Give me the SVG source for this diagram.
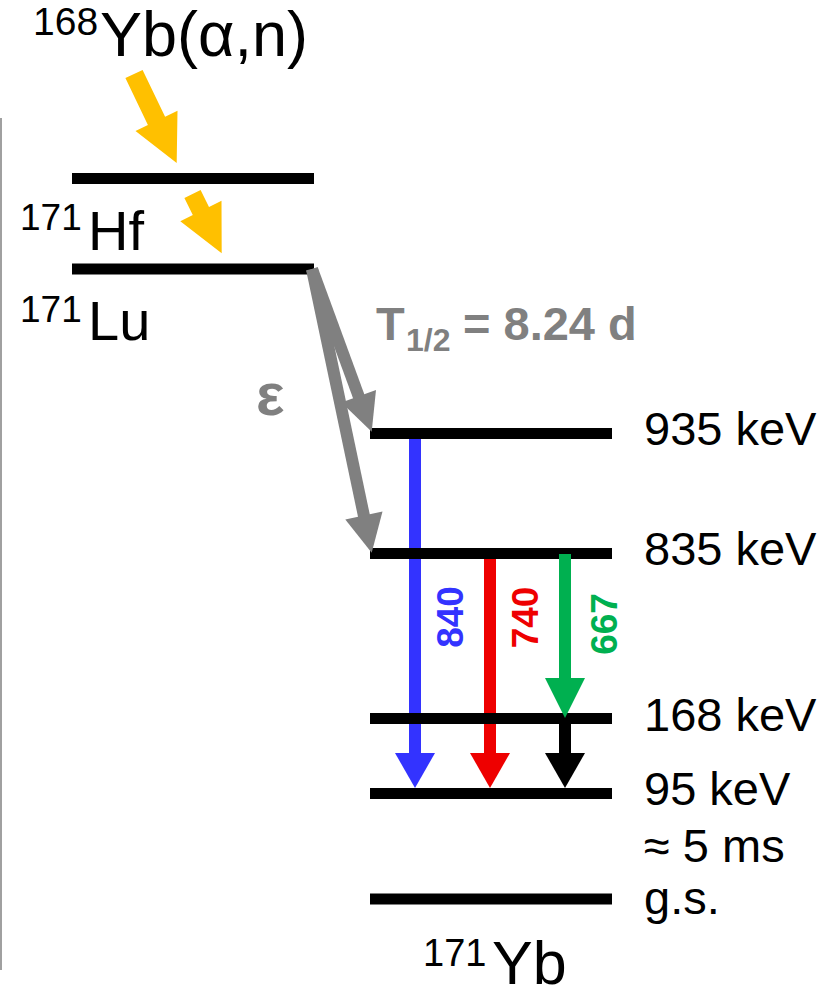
<svg xmlns="http://www.w3.org/2000/svg" width="834" height="987" viewBox="0 0 834 987">
<style>
.lvl{stroke:#000;stroke-width:11;fill:none}
.t{font-family:"Liberation Sans",Arial,sans-serif;fill:#000}
.b{font-weight:bold}
.g{fill:#808080}
.orange{fill:#FFC000}
.gray{fill:#808080}
.gs{stroke:#808080;stroke-width:12;fill:none}
.blue{fill:#3333FF}.bs{stroke:#3333FF;stroke-width:12}
.red{fill:#EE0000}.rs{stroke:#EE0000;stroke-width:12}
.green{fill:#00B050}.grs{stroke:#00B050;stroke-width:12}
.blk{fill:#000}.ks{stroke:#000;stroke-width:12}
</style>
<rect width="834" height="987" fill="#fff"/>
<line x1="1" y1="118" x2="1" y2="970" stroke="#808080" stroke-width="1.5"/>

<g id="reaction">
<text class="t"><tspan x="33" y="35" font-size="39">168</tspan><tspan x="100" y="56" font-size="63">Yb(α,n)</tspan></text>
</g>

<g id="connectors-under">
<line class="bs" x1="415" y1="439" x2="415" y2="754"/>
<polygon class="blue" points="395,753 435,753 415,788"/>
<line class="rs" x1="490" y1="559" x2="490" y2="754"/>
<polygon class="red" points="470,753 510,753 490,788"/>
</g>

<g id="hf171">
<line class="lvl" x1="72" y1="178.5" x2="314" y2="178.5"/>
<text class="t"><tspan x="20" y="230" font-size="37">171</tspan><tspan x="88" y="250" font-size="56">Hf</tspan></text>
</g>
<g id="lu171">
<line class="lvl" x1="72" y1="269" x2="314" y2="269"/>
<text class="t"><tspan x="20" y="322" font-size="37">171</tspan><tspan x="88" y="340" font-size="56">Lu</tspan></text>
</g>
<g id="lvl935">
<line class="lvl" x1="370" y1="433.5" x2="612" y2="433.5"/>
<text class="t" x="644" y="445" font-size="47">935 keV</text>
</g>
<g id="lvl835">
<line class="lvl" x1="370" y1="553.5" x2="612" y2="553.5"/>
<text class="t" x="644" y="565" font-size="47">835 keV</text>
</g>
<g id="lvl168">
<line class="lvl" x1="370" y1="718.5" x2="612" y2="718.5"/>
<text class="t" x="644" y="731" font-size="47">168 keV</text>
</g>
<g id="lvl95">
<line class="lvl" x1="370" y1="793.5" x2="612" y2="793.5"/>
<text class="t" x="644" y="805" font-size="47">95 keV</text>
<text class="t" x="644" y="862" font-size="47">≈ 5 ms</text>
</g>
<g id="gs">
<line class="lvl" x1="370" y1="899" x2="612" y2="899"/>
<text class="t" x="644" y="914" font-size="47">g.s.</text>
</g>
<g id="yb171">
<text class="t"><tspan x="423" y="966" font-size="38">171</tspan><tspan x="492" y="984" font-size="61">Yb</tspan></text>
</g>

<g id="connectors">
<polygon class="orange" points="125.4,78.1 142.6,69.9 165.1,116.8 177.5,110.8 176.7,163 135.5,131 147.9,125"/>
<polygon class="orange" points="184.4,198 200.6,190 209,207 221.5,200.8 221.7,253.3 180.3,221.2 192.8,215"/>
<line class="gs" x1="312" y1="269" x2="359.5" y2="398.5"/>
<polygon class="gray" points="341.4,402.6 376,390 371.7,431.7"/>
<line class="gs" x1="312" y1="269" x2="364.3" y2="517.5"/>
<polygon class="gray" points="345.3,519.4 382.5,511.6 371.7,552.7"/>
<line class="grs" x1="565" y1="554" x2="565" y2="679"/>
<polygon class="green" points="545,678 585,678 565,718"/>
<line class="ks" x1="565" y1="718" x2="565" y2="754"/>
<polygon class="blk" points="545,753 585,753 565,788"/>
</g>

<g id="labels">
<text class="t b g" font-size="47"><tspan x="376" y="340">T</tspan><tspan x="406" y="351" font-size="32">1/2</tspan><tspan x="463" y="340">= 8.24 d</tspan></text>
<text class="t b g" x="256" y="415" font-size="60">ε</text>
<text class="t b" style="fill:#3333FF" font-size="37" text-anchor="middle" transform="translate(463,617) rotate(-90)">840</text>
<text class="t b" style="fill:#EE0000" font-size="37" text-anchor="middle" transform="translate(538,617.5) rotate(-90)">740</text>
<text class="t b" style="fill:#00B050" font-size="37" text-anchor="middle" transform="translate(616.5,624) rotate(-90)">667</text>
</g>
</svg>
